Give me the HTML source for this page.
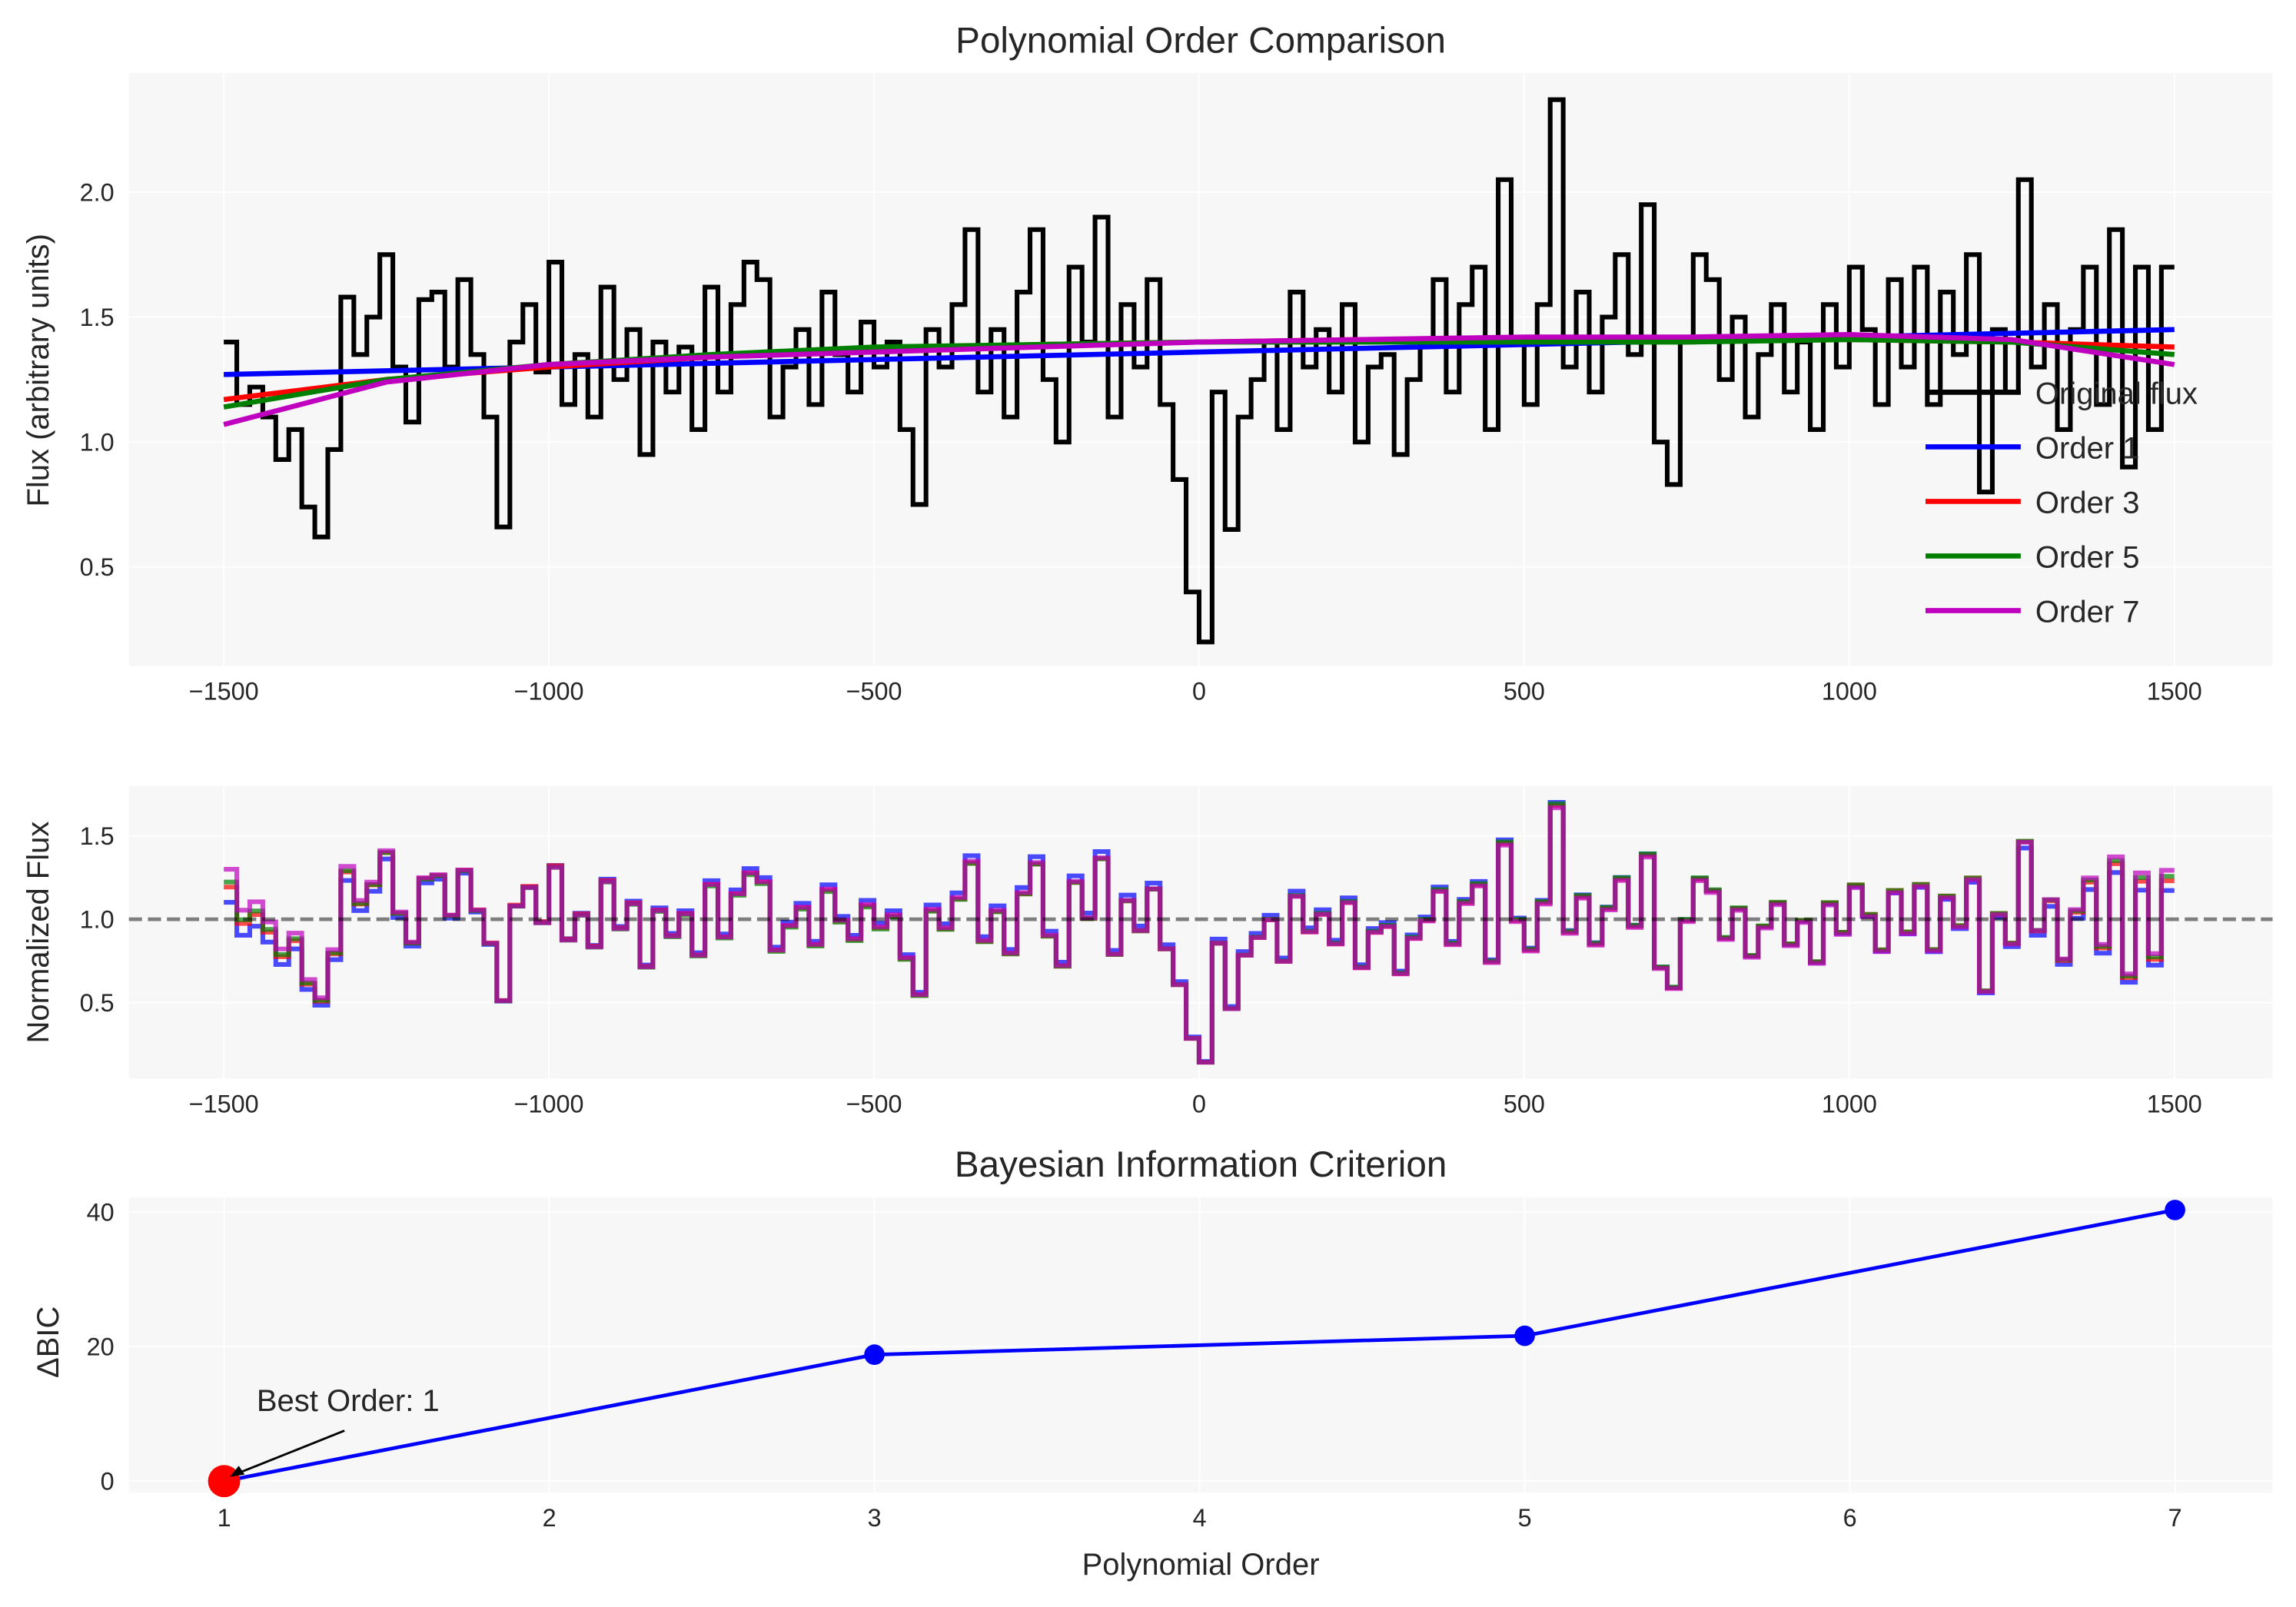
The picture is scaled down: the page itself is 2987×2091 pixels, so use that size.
<!DOCTYPE html>
<html><head><meta charset="utf-8"><style>
html,body{margin:0;padding:0;background:#fff}
svg{display:block;font-family:"Liberation Sans","DejaVu Sans",sans-serif}
</style></head><body>
<svg id="fig" width="2987" height="2091" viewBox="0 0 1568 1098" preserveAspectRatio="none" xmlns="http://www.w3.org/2000/svg">
<rect width="1568" height="1098" fill="#fff"/>
<g id="p1"></g>
<g id="p2"></g>
<g id="p3"></g>
</svg>
<script>
const fluxValues=[1.40,1.15,1.22,1.10,0.93,1.05,0.74,0.62,0.97,1.58,
1.35,1.50,1.75,1.30,1.08,1.57,1.60,1.30,1.65,1.35,
1.10,0.66,1.40,1.55,1.28,1.72,1.15,1.35,1.10,1.62,
1.25,1.45,0.95,1.40,1.20,1.38,1.05,1.62,1.20,1.55,
1.72,1.65,1.10,1.30,1.45,1.15,1.60,1.35,1.20,1.48,
1.30,1.40,1.05,0.75,1.45,1.30,1.55,1.85,1.20,1.45,
1.10,1.60,1.85,1.25,1.00,1.70,1.40,1.90,1.10,1.55,
1.30,1.65,1.15,0.85,0.40,0.20,1.20,0.65,1.10,1.25,
1.40,1.05,1.60,1.30,1.45,1.20,1.55,1.00,1.30,1.35,
0.95,1.25,1.40,1.65,1.20,1.55,1.70,1.05,2.05,1.40,
1.15,1.55,2.37,1.30,1.60,1.20,1.50,1.75,1.35,1.95,
1.00,0.83,1.40,1.75,1.65,1.25,1.50,1.10,1.35,1.55,
1.20,1.40,1.05,1.55,1.30,1.70,1.45,1.15,1.65,1.30,
1.70,1.15,1.60,1.35,1.75,0.80,1.45,1.20,2.05,1.30,
1.55,1.05,1.45,1.70,1.15,1.85,0.90,1.70,1.05,1.70];
const fitKnotsX=[-1500,-1250,-1000,-750,-500,-250,0,250,500,750,1000,1250,1500];
const fitOrder1=[1.27,1.285,1.30,1.315,1.33,1.345,1.36,1.375,1.39,1.405,1.42,1.435,1.45];
const fitOrder3=[1.17,1.25,1.30,1.34,1.37,1.39,1.40,1.41,1.41,1.41,1.41,1.40,1.38];
const fitOrder5=[1.14,1.25,1.31,1.35,1.38,1.39,1.40,1.40,1.40,1.40,1.41,1.40,1.35];
const fitOrder7=[1.07,1.24,1.31,1.34,1.36,1.38,1.40,1.41,1.42,1.42,1.43,1.41,1.31];
const orderNames=["Order 1","Order 3","Order 5","Order 7"];
const orderColors=["#0000ff","#ff0000","#008000","#bf00bf"];
const xTicks=[-1500,-1000,-500,0,500,1000,1500];
const xTickLabels=["\u22121500","\u22121000","\u2212500","0","500","1000","1500"];
const y1Ticks=[0.5,1.0,1.5,2.0];
const y2Ticks=[0.5,1.0,1.5];
const bicOrders=[1,3,5,7];
const bicValues=[0,18.8,21.6,40.3];
const bicXTicks=[1,2,3,4,5,6,7];
const bicYTicks=[0,20,40];
const fluxStart=-1500, fluxStep=20;

const NS="http://www.w3.org/2000/svg";
function mk(parent,tag,attrs,text){const e=document.createElementNS(NS,tag);for(const k in attrs)e.setAttribute(k,attrs[k]);if(text!==undefined)e.textContent=text;parent.appendChild(e);return e;}
function lin(d0,d1,r0,r1){return v=>r0+(v-d0)*(r1-r0)/(d1-d0);}
function interp(xs,ys,x){for(let i=0;i<xs.length-1;i++){if(x<=xs[i+1]){const t=(x-xs[i])/(xs[i+1]-xs[i]);return ys[i]+t*(ys[i+1]-ys[i]);}}return ys[ys.length-1];}
const fits=[fitOrder1,fitOrder3,fitOrder5,fitOrder7];

function axesBg(g,x0,y0,x1,y1,name){const r=mk(g,'rect',{x:x0,y:y0,width:x1-x0,height:y1-y0,fill:'#f7f7f7'});}
function gridAndTicks(g,X,Y,xt,xl,yt,yl,x0,y0,x1,y1,tickY){
  xt.forEach((v,i)=>{mk(g,'line',{x1:X(v),x2:X(v),y1:y0,y2:y1,stroke:'#ffffff','stroke-width':1});
    const t=mk(g,'text',{x:X(v),y:tickY,'font-size':17,'text-anchor':'middle',fill:'#262626'},xl[i]);});
  yt.forEach((v,i)=>{mk(g,'line',{x1:x0,x2:x1,y1:Y(v),y2:Y(v),stroke:'#ffffff','stroke-width':1});
    const t=mk(g,'text',{x:x0-10,y:Y(v)+6,'font-size':17,'text-anchor':'end',fill:'#262626'},yl[i]);});
}
function stepPath(X,Y,vals){let d='';vals.forEach((v,i)=>{const xa=X(fluxStart+i*fluxStep),xb=X(fluxStart+(i+1)*fluxStep);d+=(i===0?'M':'L')+xa.toFixed(2)+','+Y(v).toFixed(2)+'L'+xb.toFixed(2)+','+Y(v).toFixed(2);});return d;}

(function(){
  const g=document.getElementById('p1');const x0=88,x1=1552,y0=50,y1=455;
  const X=lin(-1646,1651,x0,x1),Y=lin(0.104,2.476,y1,y0);
  axesBg(g,x0,y0,x1,y1,'flux-axes');
  gridAndTicks(g,X,Y,xTicks,xTickLabels,y1Ticks,y1Ticks.map(v=>v.toFixed(1)),x0,y0,x1,y1,478);
  const p=mk(g,'path',{d:stepPath(X,Y,fluxValues),fill:'none',stroke:'#000','stroke-width':3.2,'stroke-linejoin':'miter'});
  
  fits.forEach((f,k)=>{const d=fitKnotsX.map((x,i)=>(i?'L':'M')+X(x).toFixed(2)+','+Y(f[i]).toFixed(2)).join('');
    const l=mk(g,'path',{d:d,fill:'none',stroke:orderColors[k],'stroke-width':3.5,'stroke-linejoin':'round'});
    });
  const t=mk(g,'text',{x:820,y:36,'font-size':25,'text-anchor':'middle',fill:'#262626'},'Polynomial Order Comparison');
  
  const yl=mk(g,'text',{x:33,y:253,'font-size':21,'text-anchor':'middle',fill:'#262626',transform:'rotate(-90 33 253)'},'Flux (arbitrary units)');
  
  const lg=mk(g,'g',{});
  const names=['Original flux'].concat(orderNames),cols=['#000'].concat(orderColors);
  names.forEach((n,i)=>{const yy=268+i*37.3;
    mk(lg,'line',{x1:1315,x2:1380,y1:yy,y2:yy,stroke:cols[i],'stroke-width':3.5});
    const e=mk(lg,'text',{x:1390,y:yy+8,'font-size':21,fill:'#262626'},n);});
})();

(function(){
  const g=document.getElementById('p2');const x0=88,x1=1552,y0=537,y1=737;
  const X=lin(-1646,1651,x0,x1),Y=lin(0.044,1.80,y1,y0);
  axesBg(g,x0,y0,x1,y1,'normalized-axes');
  gridAndTicks(g,X,Y,xTicks,xTickLabels,y2Ticks,y2Ticks.map(v=>v.toFixed(1)),x0,y0,x1,y1,760);
  fits.forEach((f,k)=>{const vals=fluxValues.map((v,i)=>v/interp(fitKnotsX,f,fluxStart+(i+0.5)*fluxStep));
    const l=mk(g,'path',{d:stepPath(X,Y,vals),fill:'none',stroke:orderColors[k],'stroke-opacity':0.7,'stroke-width':3.2});
    });
  const h=mk(g,'line',{x1:x0,x2:x1,y1:Y(1),y2:Y(1),stroke:'#000','stroke-opacity':0.5,'stroke-width':2.5,'stroke-dasharray':'9,4'});
  
  const yl=mk(g,'text',{x:33,y:637,'font-size':21,'text-anchor':'middle',fill:'#262626',transform:'rotate(-90 33 637)'},'Normalized Flux');
  
})();

(function(){
  const g=document.getElementById('p3');const x0=88,x1=1552,y0=818,y1=1020;
  const X=lin(0.707,7.30,x0,x1),Y=lin(-1.74,42.2,y1,y0);
  axesBg(g,x0,y0,x1,y1,'bic-axes');
  gridAndTicks(g,X,Y,bicXTicks,bicXTicks.map(String),bicYTicks,bicYTicks.map(String),x0,y0,x1,y1,1043);
  const d=bicOrders.map((o,i)=>(i?'L':'M')+X(o)+','+Y(bicValues[i])).join('');
  const l=mk(g,'path',{d:d,fill:'none',stroke:'#0000ff','stroke-width':2.5});
  bicOrders.forEach((o,i)=>{const c=mk(g,'circle',{cx:X(o),cy:Y(bicValues[i]),r:7,fill:'#0000ff'});});
  const best=bicValues.indexOf(Math.min(...bicValues));
  const b=mk(g,'circle',{cx:X(bicOrders[best]),cy:Y(bicValues[best]),r:11,fill:'#ff0000'});
  const a=mk(g,'line',{x1:X(1.37),y1:Y(7.5),x2:X(bicOrders[best])+6,y2:Y(bicValues[best])-4,stroke:'#000','stroke-width':1.5});
  mk(g,'path',{d:`M${X(1)+4},${Y(0)-3}l10,-1.5l-4,-6z`,fill:'#000'});
  const at=mk(g,'text',{x:X(1.1),y:Y(10)-2,'font-size':21,fill:'#262626'},'Best Order: '+bicOrders[best]);
  const t=mk(g,'text',{x:820,y:804,'font-size':25,'text-anchor':'middle',fill:'#262626'},'Bayesian Information Criterion');
  const xl=mk(g,'text',{x:820,y:1076,'font-size':21,'text-anchor':'middle',fill:'#262626'},'Polynomial Order');
  const yl=mk(g,'text',{x:40,y:917,'font-size':21,'text-anchor':'middle',fill:'#262626',transform:'rotate(-90 40 917)'},'\u0394BIC');
})();
</script>
</body></html>
